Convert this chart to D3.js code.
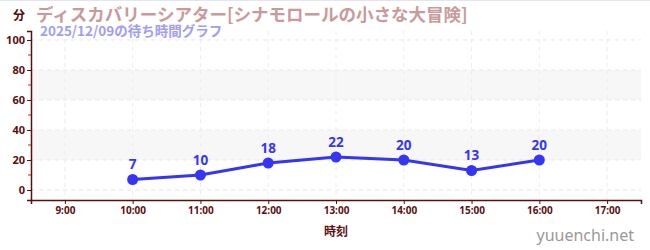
<!DOCTYPE html>
<html lang="ja">
  <head>
    <meta charset="UTF-8" />
    <script src="https://d3js.org/d3.v7.min.js"></script>
    <style>
      body { margin: 0; background: #fff; }
      text { font-family: "Noto Sans CJK JP", "Noto Sans", sans-serif; }
    </style>
  </head>
  <body>
    <script>
      var width = 650,
        height = 250;

      // data
      var hours = [10, 11, 12, 13, 14, 15, 16];
      var waits = [7, 10, 18, 22, 20, 13, 20];
      var xTicks = [9, 10, 11, 12, 13, 14, 15, 16, 17];
      var yTicks = [0, 20, 40, 60, 80, 100];
      var bands = [[20, 40], [60, 80]];

      var plotLeft = 31, plotRight = 641, plotTop = 31, plotBottom = 200;
      var axisColor = "#5a0f0f";

      var svg = d3.select("body").append("svg")
        .attr("width", width).attr("height", height);

      svg.append("line").attr("x1", 0).attr("x2", width).attr("y1", 0.5).attr("y2", 0.5)
        .attr("stroke", "#e4e4f8");

      var x = d3.scaleLinear().domain([8.5, 17.5]).range([plotLeft, plotRight]);
      var y = d3.scaleLinear().domain([-6.67, 106]).range([plotBottom, plotTop]);

      // shaded bands
      svg.selectAll("rect.band").data(bands).enter().append("rect")
        .attr("class", "band")
        .attr("x", plotLeft).attr("width", plotRight - plotLeft)
        .attr("y", function (d) { return y(d[1]); })
        .attr("height", function (d) { return y(d[0]) - y(d[1]); })
        .attr("fill", "#f7f7f7");

      // grid
      svg.append("g").selectAll("line").data(yTicks).enter().append("line")
        .attr("x1", plotLeft).attr("x2", plotRight)
        .attr("y1", function (d) { return y(d); }).attr("y2", function (d) { return y(d); })
        .attr("stroke", "#e6e6e6").attr("stroke-dasharray", "4,4");
      svg.append("g").selectAll("line").data(xTicks).enter().append("line")
        .attr("y1", plotTop).attr("y2", plotBottom)
        .attr("x1", function (d) { return x(d); }).attr("x2", function (d) { return x(d); })
        .attr("stroke", "#ececec").attr("stroke-dasharray", "4,4");

      // y axis
      var yAxis = svg.append("g").attr("transform", "translate(" + plotLeft + ",0)")
        .call(d3.axisLeft(y).tickValues(yTicks).tickSize(4).tickPadding(2));
      yAxis.select(".domain").attr("stroke", axisColor).attr("stroke-width", 1.5);
      yAxis.selectAll(".tick line").attr("stroke", axisColor);
      yAxis.selectAll("text").attr("fill", axisColor).style("font-size", "11px")
        .style("font-weight", "bold").style("font-family", "'Noto Sans', sans-serif");
      svg.append("g").selectAll("line").data([10, 30, 50, 70, 90]).enter().append("line")
        .attr("x1", plotLeft - 3).attr("x2", plotLeft)
        .attr("y1", function (d) { return y(d); }).attr("y2", function (d) { return y(d); })
        .attr("stroke", "#d02020");

      // x axis
      var xAxis = svg.append("g").attr("transform", "translate(0," + plotBottom + ")")
        .call(d3.axisBottom(x).tickValues(xTicks).tickSize(4).tickPadding(3)
          .tickFormat(function (d) { return d + ":00"; }));
      xAxis.select(".domain").attr("stroke", axisColor).attr("stroke-width", 1.5);
      xAxis.selectAll(".tick line").attr("stroke", axisColor);
      xAxis.selectAll("text").attr("fill", axisColor).style("font-size", "10px")
        .style("font-weight", "bold").style("font-family", "'Noto Sans', sans-serif");

      // line + points
      var pts = hours.map(function (h, i) { return [h, waits[i]]; });
      svg.append("path").datum(pts)
        .attr("fill", "none").attr("stroke", "#3535f5").attr("stroke-width", 3)
        .attr("d", d3.line().x(function (d) { return x(d[0]); }).y(function (d) { return y(d[1]); }));
      svg.selectAll("circle.pt").data(pts).enter().append("circle")
        .attr("cx", function (d) { return x(d[0]); }).attr("cy", function (d) { return y(d[1]); })
        .attr("r", 5.5).attr("fill", "#3535f5");
      svg.selectAll("text.lbl").data(pts).enter().append("text")
        .attr("x", function (d) { return x(d[0]); }).attr("y", function (d) { return y(d[1]) - 10; })
        .attr("text-anchor", "middle").attr("fill", "#3535f5")
        .style("font-size", "13.5px").style("font-weight", "bold")
        .style("font-family", "'Noto Sans', sans-serif")
        .text(function (d) { return d[1]; });

      // titles
      svg.append("text").attr("x", 13).attr("y", 20).attr("fill", "#4d0a0a")
        .style("font-size", "12px").style("font-weight", "bold").text("分");
      svg.append("text").attr("x", 36).attr("y", 21).attr("fill", "#c99a9a")
        .style("font-size", "17.5px").style("font-weight", "bold")
        .text("ディスカバリーシアター[シナモロールの小さな大冒険]");
      svg.append("text").attr("x", 40).attr("y", 36).attr("fill", "#9e9ef5")
        .style("font-size", "13.5px").style("font-weight", "bold")
        .text("2025/12/09の待ち時間グラフ");
      svg.append("text").attr("x", x(13)).attr("y", 236).attr("text-anchor", "middle")
        .attr("fill", "#5a0f0f").style("font-size", "12px").style("font-weight", "bold").text("時刻");
      svg.append("text").attr("x", 634).attr("y", 241).attr("text-anchor", "end")
        .attr("fill", "#999").style("font-size", "16px").style("font-family", "'Noto Sans', sans-serif")
        .text("yuuenchi.net");
    </script>
  </body>
</html>
